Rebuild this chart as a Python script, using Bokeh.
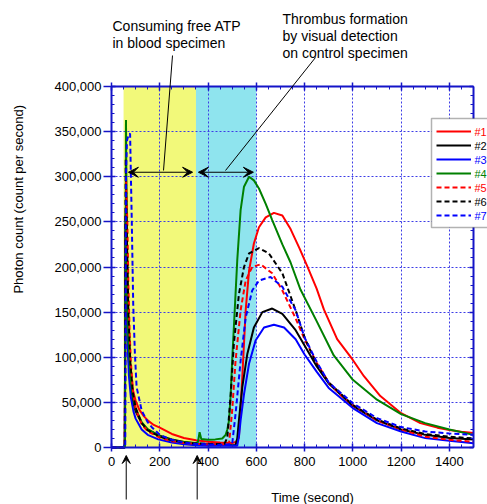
from bokeh.plotting import figure
from bokeh.models import (Range1d, LinearAxis, SingleIntervalTicker, NumeralTickFormatter,
                          BoxAnnotation, Label, Arrow, VeeHead, Legend, LegendItem,
                          CustomJSTickFormatter, Grid, BasicTickFormatter)
from bokeh.embed import file_html
from bokeh.resources import INLINE
import math

FONT = "Liberation Sans"

# ---------------- data ----------------
names = ["#1", "#2", "#3", "#4", "#5", "#6", "#7"]
colors = ["#FF0000", "#000000", "#0000FF", "#008000", "#FF0000", "#000000", "#0000FF"]
dashes = ["solid", "solid", "solid", "solid", "5 3", "5 3", "5 3"]

t1 = [0, 55, 58, 62, 66, 72, 80, 90, 100, 115, 133, 150, 175, 200, 250, 300, 350, 400, 450, 500,
      515, 528, 542, 556, 570, 590, 611, 639, 673, 708, 742, 780, 811, 850, 880, 935, 1000, 1046,
      1114, 1200, 1280, 1350, 1400, 1450, 1500]
v1 = [0, 0, 240000, 200000, 150000, 110000, 80000, 62000, 52000, 42000, 35000, 30000, 25000, 22000,
      15000, 10500, 8000, 6500, 5500, 5000, 6000, 11000, 78000, 152000, 196000, 226000, 244000,
      255000, 260000, 257000, 242000, 220000, 201000, 176000, 153000, 120000, 97000, 79000, 57000,
      38000, 27000, 22000, 19500, 17500, 16000]

t2 = [0, 55, 58, 62, 66, 72, 80, 90, 100, 125, 150, 200, 250, 300, 350, 400, 450, 500, 514, 521,
      528, 542, 563, 590, 625, 666, 708, 763, 800, 850, 900, 1000, 1100, 1200, 1300, 1400, 1500]
v2 = [0, 0, 260000, 190000, 140000, 95000, 68000, 50000, 40000, 27000, 20000, 13000, 9000, 6000,
      4500, 3500, 3000, 2500, 2500, 10000, 30000, 67000, 104000, 133000, 150000, 154000, 148000,
      130000, 113000, 90000, 71000, 46000, 30000, 20000, 14000, 10400, 9000]

t3 = [0, 55, 58, 62, 66, 72, 80, 91, 100, 125, 150, 194, 250, 300, 350, 400, 450, 500, 521, 528,
      535, 549, 570, 597, 632, 673, 715, 763, 800, 850, 900, 1000, 1100, 1200, 1300, 1400, 1500]
v3 = [0, 0, 250000, 170000, 120000, 80000, 56000, 40000, 32000, 20000, 14000, 9000, 5500, 3500,
      2500, 2000, 2000, 2000, 2000, 12000, 30000, 59000, 93000, 118500, 133000, 136000, 133000,
      120000, 103000, 84000, 66000, 43700, 27000, 17800, 10400, 7400, 4800]

t4 = [0, 56, 60, 63, 66, 70, 80, 90, 100, 125, 150, 200, 250, 300, 350, 358, 365, 372, 400, 430,
      459, 473, 480, 487, 494, 500, 507, 514, 521, 535, 549, 570, 590, 611, 639, 666, 708, 742,
      783, 850, 921, 1000, 1100, 1200, 1300, 1400, 1500]
v4 = [0, 0, 363000, 250000, 170000, 120000, 75000, 55000, 43000, 28000, 20000, 12500, 8000, 6000,
      5000, 6000, 17000, 9500, 8500, 9000, 10000, 14000, 20000, 30000, 59000, 96000, 133000, 170000,
      207000, 263000, 289000, 300000, 296000, 287000, 270000, 252000, 225000, 205000, 175000,
      140000, 102000, 75000, 53000, 37000, 27000, 20000, 14000]

t5 = [0, 55, 60, 66, 70, 75, 80, 90, 100, 125, 150, 200, 250, 300, 350, 400, 450, 487, 500, 514,
      535, 556, 583, 618, 666, 708, 763, 800, 850, 900, 950, 1000, 1100, 1200, 1300, 1400, 1500]
v5 = [0, 0, 300000, 245000, 180000, 130000, 95000, 60000, 43000, 26000, 18000, 11000, 7000, 5000,
      4000, 3500, 3500, 4000, 41000, 96000, 152000, 185000, 200000, 203000, 193000, 174000, 143000,
      120000, 94000, 72000, 58000, 47000, 30000, 20000, 12000, 8500, 6300]

t6 = [0, 55, 59, 64, 70, 78, 88, 100, 125, 150, 200, 250, 300, 350, 400, 450, 470, 480, 494, 507,
      528, 549, 570, 611, 652, 708, 763, 800, 850, 900, 1000, 1100, 1200, 1300, 1400, 1500]
v6 = [0, 0, 320000, 230000, 150000, 95000, 62000, 44000, 27000, 19000, 12000, 8000, 5500, 4500,
      4000, 4000, 5000, 11000, 59000, 115000, 170000, 200000, 215000, 221000, 215000, 193000,
      152000, 122000, 92000, 72000, 47000, 31000, 21000, 15000, 12000, 10000]

t7 = [0, 57, 60, 64, 70, 77, 84, 90, 97, 104, 125, 150, 167, 200, 250, 300, 350, 400, 450, 500,
      514, 535, 556, 583, 611, 659, 708, 763, 800, 850, 900, 1000, 1100, 1200, 1300, 1400, 1500]
v7 = [0, 0, 300000, 340000, 346000, 348000, 251000, 159000, 104000, 67000, 41000, 28000, 22500,
      14000, 8500, 5500, 4000, 3500, 3000, 3700, 37000, 96000, 144000, 174000, 185000, 189000,
      178000, 152000, 122000, 95000, 72000, 49000, 32600, 22600, 17800, 15500, 14000]

times = [t1, t2, t3, t4, t5, t6, t7]
vals = [v1, v2, v3, v4, v5, v6, v7]

x_ticks_interval = 200
y_ticks_interval = 50000
yellow_span = (50, 350)
cyan_span = (350, 600)
arrow_y = 305000
arrow1 = (70, 336)
arrow2 = (360, 588)
marks_t = [61, 355]

# ---------------- layout ----------------
# The whole canvas is the frame; the axes sit at fixed data locations.
W, H = 487, 504
FL, FT, FR, FB = 111, 86, 473, 447  # edges of the plotting box, in pixels
X0, X1, Y0, Y1 = 0, 1500, 0, 400000
SX = (FR - FL) / (X1 - X0)
SY = (FB - FT) / (Y1 - Y0)


def dx(px):
    return X0 + (px - FL) / SX


def dy(py):
    return Y0 + (FB - py) / SY


AXC = "#1414C8"
GRIDC = "#3C3CE6"
YEL = "#F2F97A"
CYAN = "#8FE4EE"

p = figure(width=W, height=H, x_range=Range1d(dx(0), dx(W)), y_range=Range1d(dy(H), dy(0)),
           output_backend="svg", toolbar_location=None, x_axis_type=None, y_axis_type=None,
           min_border_left=0, min_border_top=0, min_border_right=0, min_border_bottom=0)
p.background_fill_color = "white"
p.border_fill_color = "white"
p.outline_line_color = None

xt = SingleIntervalTicker(interval=x_ticks_interval, num_minor_ticks=4)
yt = SingleIntervalTicker(interval=y_ticks_interval, num_minor_ticks=5)
blank = CustomJSTickFormatter(code="return ''")


def make_axis(ticker, loc, bounds, tick_in, tick_out, minor_in, minor_out, formatter,
              standoff):
    ax = LinearAxis(ticker=ticker, fixed_location=loc, bounds=bounds, formatter=formatter)
    ax.axis_line_color = AXC
    ax.axis_line_width = 2
    ax.major_tick_line_color = AXC
    ax.major_tick_line_width = 1.5
    ax.minor_tick_line_color = AXC
    ax.minor_tick_line_width = 1
    ax.major_tick_in = tick_in
    ax.major_tick_out = tick_out
    ax.minor_tick_in = minor_in
    ax.minor_tick_out = minor_out
    ax.major_label_text_font = FONT
    ax.major_label_text_font_size = "13px"
    ax.major_label_text_color = "black"
    ax.major_label_standoff = standoff
    return ax


bottom_ax = make_axis(xt, Y0, (X0, X1), 4, 4, 3, 0, BasicTickFormatter(), 5)
left_ax = make_axis(yt, X0, (Y0, Y1), 4, 8, 3, 0, NumeralTickFormatter(format="0,0"), 2)
top_ax = make_axis(xt, Y1, (X0, X1), 4, 4, 3, 0, blank, 0)
right_ax = make_axis(yt, X1, (Y0, Y1), 4, 0, 3, 0, blank, 0)
p.add_layout(bottom_ax, "below")
p.add_layout(left_ax, "left")
p.add_layout(top_ax, "above")
p.add_layout(right_ax, "right")

for dim, tk, b, cb in [(0, xt, (X0, X1), (Y0, Y1)), (1, yt, (Y0, Y1), (X0, X1))]:
    try:
        g = Grid(dimension=dim, ticker=tk, bounds=b, cross_bounds=cb)
    except AttributeError:
        g = Grid(dimension=dim, ticker=tk, bounds=b)
    g.grid_line_color = GRIDC
    g.grid_line_dash = "2 2"
    g.grid_line_width = 1
    g.level = "underlay"
    p.add_layout(g)

p.add_layout(BoxAnnotation(left=yellow_span[0], right=yellow_span[1], bottom=Y0, top=Y1,
                           fill_color=YEL, fill_alpha=1, line_alpha=0, level="image"))
p.add_layout(BoxAnnotation(left=cyan_span[0], right=cyan_span[1], bottom=Y0, top=Y1,
                           fill_color=CYAN, fill_alpha=1, line_alpha=0, level="image"))

rends = []
for t, v, c, d in zip(times, vals, colors, dashes):
    r = p.line(t, v, line_color=c, line_width=2, line_dash=d)
    rends.append(r)

# legend box (runs past the right edge of the page, as in the original)
LG_TOP, LG_BOT, LG_LEFT = 118, 227, 431
p.add_layout(BoxAnnotation(left=dx(LG_LEFT), right=dx(W + 20), top=dy(LG_TOP), bottom=dy(LG_BOT),
                           fill_color="white", fill_alpha=1, line_color="black",
                           line_width=1.5, level="annotation"))
legend = Legend(items=[LegendItem(label=" ", renderers=[r]) for r in rends],
                location=(LG_LEFT, H - LG_BOT), glyph_width=35, glyph_height=14,
                label_height=14, label_width=40, label_standoff=3, padding=5, spacing=0,
                margin=0, border_line_alpha=0, background_fill_alpha=0,
                label_text_font_size="11px", label_text_font=FONT, level="overlay")
p.add_layout(legend)


def label(px, py, text, size="14px", color="black", align="left", angle=0.0):
    return Label(x=dx(px), y=dy(py), text=text, text_color=color, text_font=FONT,
                 text_font_size=size, text_baseline="middle", text_align=align,
                 angle=angle, level="overlay")


# coloured legend texts
for i, (n, c) in enumerate(zip(names, colors)):
    p.add_layout(label(474, 131 + 14 * i, n, size="11px", color=c))

# double arrows
for a in (arrow1, arrow2):
    p.add_layout(Arrow(x_start=a[0], y_start=arrow_y, x_end=a[1], y_end=arrow_y,
                       start=VeeHead(size=10, fill_color="black", line_color="black"),
                       end=VeeHead(size=10, fill_color="black", line_color="black"),
                       line_color="black", line_width=1.2, level="overlay"))

# leader lines from the notes
for (x0, y0, x1, y1) in [(172, 55, 163, 170), (315, 57, 225, 170)]:
    p.add_layout(Arrow(x_start=dx(x0), y_start=dy(y0), x_end=dx(x1), y_end=dy(y1), end=None,
                       line_color="black", line_width=1, level="overlay"))

note1 = ["Consuming free ATP", "in blood specimen"]
note2 = ["Thrombus formation", "by visual detection", "on control specimen"]
for i, s in enumerate(note1):
    p.add_layout(label(112, 25 + 17 * i, s))
for i, s in enumerate(note2):
    p.add_layout(label(282, 18 + 17 * i, s))

# marks below the time axis
for mt in marks_t:
    p.add_layout(Arrow(x_start=mt, y_start=dy(499), x_end=mt, y_end=dy(455),
                       end=VeeHead(size=8, fill_color="black", line_color="black"),
                       line_color="black", line_width=1, level="overlay"))

# axis titles
p.add_layout(label(312, 497, "Time (second)", size="13px", align="center"))
p.add_layout(label(18, 197, "Photon count  (count per second)", size="13px",
                   align="center", angle=math.pi / 2))

open("out.html", "w").write(file_html(p, INLINE))
